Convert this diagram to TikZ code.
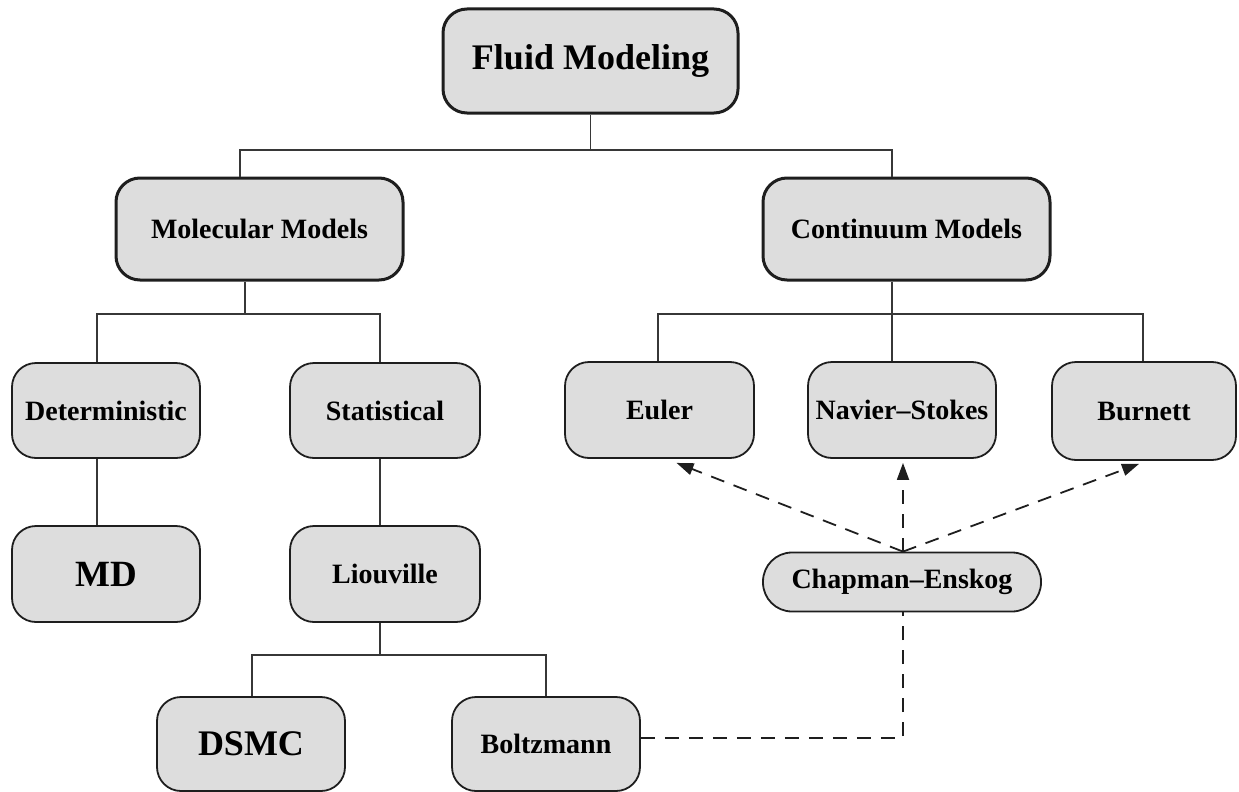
\documentclass[tikz,border=0pt]{standalone}
\usepackage{fontspec}
\setmainfont{Liberation Serif}
\usetikzlibrary{arrows.meta,calc}
\definecolor{boxfill}{RGB}{221,221,221}
\definecolor{boxline}{RGB}{30,30,30}
\definecolor{conn}{RGB}{55,55,55}
\begin{document}
\begin{tikzpicture}[x=1pt,y=-1pt,
  bigbox/.style={draw=boxline,fill=boxfill,line width=3pt,rounded corners=24pt,
    font=\fontsize{28}{30}\selectfont\bfseries,inner sep=0pt},
  smallbox/.style={draw=boxline,fill=boxfill,line width=1.8pt,rounded corners=24pt,
    font=\fontsize{28}{30}\selectfont\bfseries,inner sep=0pt},
  tree/.style={draw=conn,line width=1.8pt},
  dashconn/.style={draw=boxline,line width=1.8pt,dash pattern=on 14pt off 10pt},
  tip/.style={-{Triangle[length=17pt,width=12pt]}}]
\useasboundingbox (0,0) rectangle (1239,792);

\node[bigbox,minimum width=295pt,minimum height=104pt,font=\fontsize{36}{38}\selectfont\bfseries] (fm) at (590.5,61) {Fluid Modeling};
\node[bigbox,minimum width=287pt,minimum height=102pt] (mm) at (259.5,229) {Molecular Models};
\node[bigbox,minimum width=287pt,minimum height=102pt] (cm) at (906.5,229) {Continuum Models};

\node[smallbox,minimum width=188pt,minimum height=95pt] (de) at (106,410.5) {Deterministic};
\node[smallbox,minimum width=190pt,minimum height=95pt] (st) at (385,410.5) {Statistical};
\node[smallbox,minimum width=189pt,minimum height=96pt] (eu) at (659.5,410) {Euler};
\node[smallbox,minimum width=188pt,minimum height=96pt] (ns) at (902,410) {Navier–Stokes};
\node[smallbox,minimum width=184pt,minimum height=98pt] (bu) at (1144,411) {Burnett};

\node[smallbox,minimum width=188pt,minimum height=96pt,font=\fontsize{37}{39}\selectfont\bfseries] (md) at (106,574) {MD};
\node[smallbox,minimum width=190pt,minimum height=96pt] (li) at (385,574) {Liouville};
\node[smallbox,minimum width=278pt,minimum height=59pt,rounded corners=29pt] (ce) at (902,582) {Chapman–Enskog};

\node[smallbox,minimum width=188pt,minimum height=94pt,font=\fontsize{36}{38}\selectfont\bfseries] (ds) at (251,744) {DSMC};
\node[smallbox,minimum width=188pt,minimum height=94pt] (bo) at (546,744) {Boltzmann};

% tree connectors
\draw[tree] (fm.south) -- (fm.south |- 0,150);
\draw[tree] (mm.north -| 240,0) -- (240,150) -- (892,150) -- (cm.north -| 892,0);
\draw[tree] (mm.south -| 245,0) -- (245,314);
\draw[tree] (de.north -| 97,0) -- (97,314) -- (380,314) -- (st.north -| 380,0);
\draw[tree] (cm.south -| 892,0) -- (892,314);
\draw[tree] (eu.north -| 658,0) -- (658,314) -- (1143,314) -- (bu.north -| 1143,0);
\draw[tree] (ns.north -| 892,0) -- (892,314);
\draw[tree] (de.south -| 97,0) -- (md.north -| 97,0);
\draw[tree] (st.south -| 380,0) -- (li.north -| 380,0);
\draw[tree] (li.south -| 380,0) -- (380,655);
\draw[tree] (ds.north -| 252,0) -- (252,655) -- (546,655) -- (bo.north -| 546,0);

% dashed connectors
\draw[dashconn] ([yshift=6pt]bo.east) -| ([xshift=1pt]ce.south);
\draw[dashconn,tip] ([xshift=1pt]ce.north) -- ([xshift=17pt,yshift=-4pt]eu.south);
\draw[dashconn,tip] ([xshift=1pt]ce.north) -- ([xshift=1pt,yshift=-4pt]ns.south);
\draw[dashconn,tip] ([xshift=1pt]ce.north) -- ([xshift=-5pt,yshift=-3pt]bu.south);
\end{tikzpicture}
\end{document}
